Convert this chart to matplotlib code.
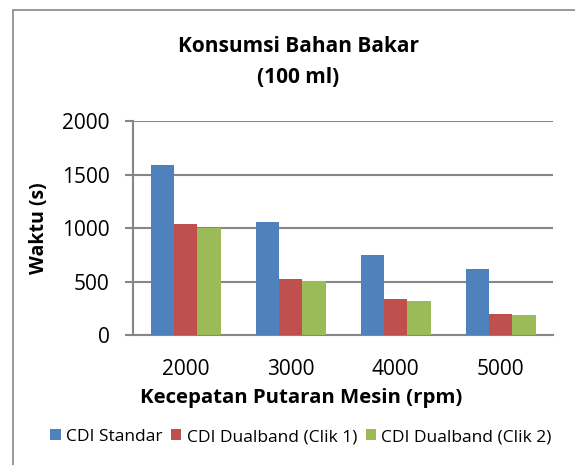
import matplotlib
matplotlib.use("Agg")
import matplotlib.pyplot as plt
import numpy as np
from matplotlib.patches import Rectangle

categories = ["2000", "3000", "4000", "5000"]
series_names = ["CDI Standar", "CDI Dualband (Clik 1)", "CDI Dualband (Clik 2)"]
cdi_standar = [1585, 1060, 752, 618]
cdi_clik1 = [1039, 527, 334, 200]
cdi_clik2 = [1001, 508, 318, 190]
colors = ["#4F81BD", "#C0504D", "#9BBB59"]
yticks = [0, 500, 1000, 1500, 2000]

plt.rcParams['font.family'] = ['Open Sans', 'DejaVu Sans']

fig = plt.figure(figsize=(5.75, 4.65), dpi=100)
W, H = 575, 465
ax = fig.add_axes([133 / W, 1 - 335 / H, (553 - 133) / W, (335 - 121) / H])

x = np.arange(len(categories))
bw = 1 / 4.5
for i, (vals, name, c) in enumerate(zip([cdi_standar, cdi_clik1, cdi_clik2], series_names, colors)):
    ax.bar(x + (i - 1) * bw, vals, width=bw, color=c, label=name, zorder=3)

ax.set_xlim(-0.5, len(categories) - 0.5)
ax.set_ylim(0, 2000)
ax.set_yticks(yticks)
ax.set_yticklabels([str(v) for v in yticks], fontsize=15)
ax.set_xticks(x)
ax.set_xticklabels(categories, fontsize=15)
ax.tick_params(axis='x', length=0, pad=17)
ax.tick_params(axis='y', length=6, color='#868686', width=1.5, pad=11)
ax.grid(axis='y', color='#868686', linewidth=1.5, zorder=0)
for s in ['top', 'right']:
    ax.spines[s].set_visible(False)
for s in ['left', 'bottom']:
    ax.spines[s].set_color('#868686')
    ax.spines[s].set_linewidth(1.5)

fig.text(298 / W, 1 - 62 / H, "Konsumsi Bahan Bakar\n(100 ml)", ha='center', va='center',
         fontsize=15, fontweight='bold', linespacing=1.6)
ax.set_ylabel("Waktu (s)", fontsize=14, fontweight='bold', labelpad=9)
fig.text(301 / W, 1 - 398 / H, "Kecepatan Putaran Mesin (rpm)", ha='center', va='center',
         fontsize=14.7, fontweight='bold')

ax.legend(loc='center', bbox_to_anchor=(301 / W, 1 - 437 / H), bbox_transform=fig.transFigure,
          ncol=3, frameon=False, fontsize=12.5, handlelength=0.6, handleheight=0.6,
          handletextpad=0.3, columnspacing=0.5)

fig.patches.append(Rectangle((13 / W, -0.1), 1.2, 1 - 10 / H + 0.1, transform=fig.transFigure,
                             fill=False, edgecolor='#868686', linewidth=1.2))

fig.savefig("out.png", dpi=100)
